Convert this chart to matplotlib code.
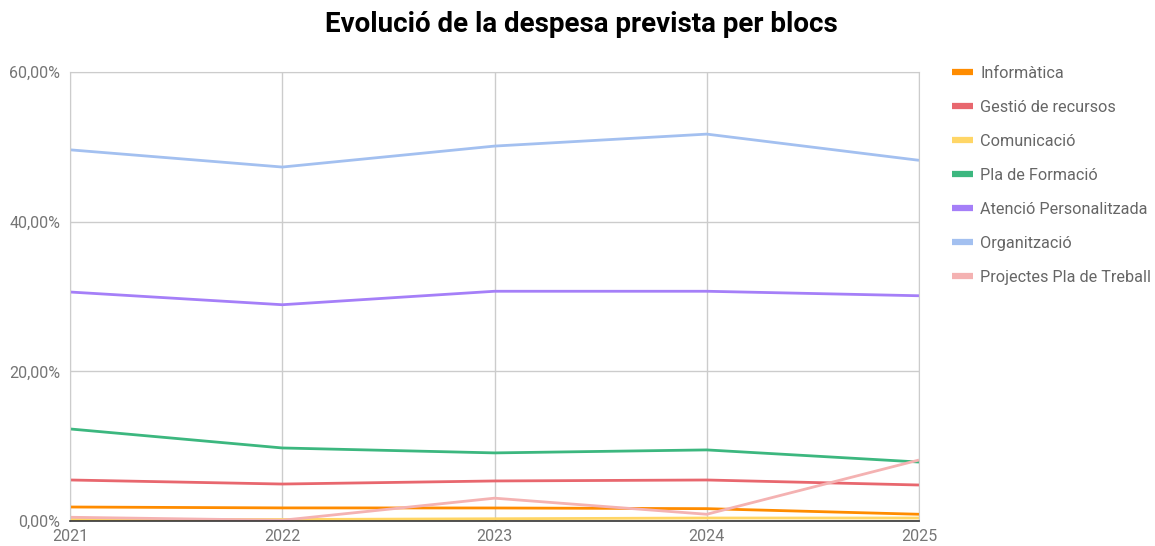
import matplotlib
matplotlib.use("Agg")
import matplotlib.pyplot as plt
from matplotlib.ticker import FuncFormatter

years = [2021, 2022, 2023, 2024, 2025]
informatica = [1.87, 1.75, 1.74, 1.65, 0.9]
gestio = [5.48, 4.94, 5.35, 5.48, 4.81]
comunicacio = [0.2, 0.2, 0.3, 0.4, 0.4]
formacio = [12.3, 9.76, 9.1, 9.5, 7.88]
atencio = [30.6, 28.9, 30.7, 30.7, 30.1]
organitzacio = [49.6, 47.3, 50.1, 51.7, 48.2]
projectes = [0.5, 0.1, 3.05, 0.9, 8.15]

series_names = ["Informàtica", "Gestió de recursos", "Comunicació", "Pla de Formació",
                "Atenció Personalitzada", "Organització", "Projectes Pla de Treball"]
series_vals = [informatica, gestio, comunicacio, formacio, atencio, organitzacio, projectes]
colors = ["#ff8c00", "#e8676e", "#ffd666", "#3cb77f", "#a57ff8", "#a3c0f0", "#f4b2b2"]
yticks = [0, 20, 40, 60]

plt.rcParams['font.family'] = ['Roboto', 'DejaVu Sans']
fig = plt.figure(figsize=(11.55, 5.46), dpi=100)
ax = fig.add_axes([70/1155, 1-521/546, (919-70)/1155, (521-72)/546])

for name, vals, c in zip(series_names, series_vals, colors):
    ax.plot(years, vals, color=c, lw=2.0, label=name, solid_capstyle='butt')

ax.set_xlim(years[0], years[-1])
ax.set_ylim(0, 60)
ax.set_yticks(yticks)
ax.set_xticks(years)
ax.yaxis.set_major_formatter(FuncFormatter(lambda v, p: f"{v:.2f}".replace(".", ",") + "%"))
ax.grid(True, color="#cccccc", lw=1)
ax.set_axisbelow(True)
for s in ["left", "top", "right"]:
    ax.spines[s].set_color("#cccccc")
ax.spines["bottom"].set_color("#333333")
ax.spines["bottom"].set_linewidth(1.2)
ax.tick_params(length=0, labelsize=11.5, colors="#757575", pad=6)
ax.tick_params(axis='y', pad=7)

fig.text(581/1155, 1-24/546, "Evolució de la despesa prevista per blocs",
         ha="center", va="center", fontsize=20, fontweight="bold", color="#000000")

leg = fig.legend(loc="upper left", bbox_to_anchor=(937/1155, 1-51/546), frameon=False,
                 fontsize=11.7, labelspacing=1.17, handlelength=1.3, handletextpad=0.45,
                 labelcolor="#666666")
for h in leg.get_lines():
    h.set_linewidth(4.5)

fig.savefig("out.png", dpi=100)
